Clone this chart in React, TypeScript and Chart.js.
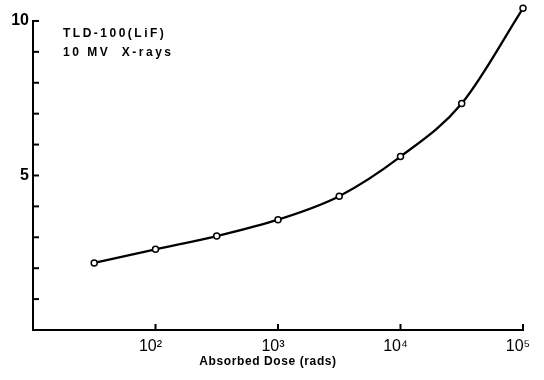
import React, { useEffect, useRef } from "react";
import { Chart, registerables } from "chart.js";

Chart.register(...registerables);

const doses = [31.6, 100, 316, 1000, 3160, 10000, 31600, 100000];
const response = [2.17, 2.61, 3.04, 3.57, 4.33, 5.61, 7.33, 10.41];
const xTickValues = [100, 1000, 10000, 100000];
const xTickLabels = ["10²", "10³", "10⁴", "10⁵"];
const yTickValues = [1, 2, 3, 4, 5, 6, 7, 8, 9, 10];
const yLabelled: Record<number, string> = { 5: "5", 10: "10" };
const yAxisTop = 10;
const annotationLines = ["TLD-100(LiF)", "10 MV  X-rays"];
const xTitle = "Absorbed Dose (rads)";

const FONT = "'Liberation Sans', Arial, sans-serif";

const innerTicks = {
  id: "innerTicks",
  afterDraw(chart: any) {
    const ctx = chart.ctx;
    const { left, bottom } = chart.chartArea;
    const xs = chart.scales.x;
    const ys = chart.scales.y;
    ctx.save();
    ctx.strokeStyle = "#000";
    ctx.lineWidth = 2;
    ctx.beginPath();
    ctx.moveTo(left, bottom + 1);
    ctx.lineTo(left, ys.getPixelForValue(yAxisTop) - 1);
    ctx.stroke();
    yTickValues.forEach((v) => {
      const y = ys.getPixelForValue(v);
      ctx.beginPath();
      ctx.moveTo(left, y);
      ctx.lineTo(left + 6, y);
      ctx.stroke();
    });
    xTickValues.forEach((v) => {
      const x = xs.getPixelForValue(v);
      ctx.beginPath();
      ctx.moveTo(x, bottom);
      ctx.lineTo(x, bottom - 6);
      ctx.stroke();
    });
    ctx.fillStyle = "#000";
    ctx.font = `bold 12px ${FONT}`;
    ctx.textAlign = "left";
    ctx.textBaseline = "middle";
    try { (ctx as any).letterSpacing = "2.5px"; } catch (e) {}
    const topY = ys.getPixelForValue(yAxisTop);
    ctx.fillText(annotationLines[0], left + 30, topY + 13);
    ctx.fillText(annotationLines[1], left + 30, topY + 32);
    try { (ctx as any).letterSpacing = "0.6px"; } catch (e) {}
    ctx.font = `bold 12px ${FONT}`;
    ctx.textAlign = "center";
    ctx.fillText(xTitle, 268, 362);
    ctx.restore();
  },
};

export default function App() {
  const ref = useRef<HTMLCanvasElement | null>(null);
  useEffect(() => {
    document.body.style.margin = "0";
    const canvas = ref.current;
    if (!canvas) return;
    const chart = new Chart(canvas, {
      type: "line",
      data: {
        datasets: [
          {
            data: doses.map((d, i) => ({ x: d, y: response[i] })),
            borderColor: "#000",
            borderWidth: 2.3,
            pointRadius: 3,
            pointBorderWidth: 1.5,
            pointBackgroundColor: "#fff",
            pointBorderColor: "#000",
            cubicInterpolationMode: "monotone",
            clip: false as any,
          },
        ],
      },
      options: {
        animation: false,
        responsive: false,
        layout: { padding: { left: 0, right: 21, top: 1.4, bottom: 0 } },
        plugins: { legend: { display: false }, tooltip: { enabled: false } },
        scales: {
          x: {
            type: "logarithmic",
            min: 10,
            max: 100000,
            afterBuildTicks: (scale: any) => {
              scale.ticks = xTickValues.map((v) => ({ value: v }));
            },
            afterFit: (scale: any) => {
              scale.height = 50;
              scale.paddingLeft = 0;
              scale.paddingRight = 0;
            },
            grid: { drawOnChartArea: false, drawTicks: false },
            border: { display: true, color: "#000", width: 2 },
            ticks: {
              color: "#000",
              font: { family: FONT, size: 16 },
              padding: 7,
              labelOffset: -5,
              autoSkip: false,
              maxRotation: 0,
              callback: (v: any) => {
                const i = xTickValues.indexOf(Number(v));
                return i >= 0 ? xTickLabels[i] : "";
              },
            },
          },
          y: {
            type: "linear",
            min: 0,
            max: 10.5,
            afterBuildTicks: (scale: any) => {
              scale.ticks = yTickValues.map((v) => ({ value: v }));
            },
            afterFit: (scale: any) => {
              scale.width = 33;
              scale.paddingTop = 0;
              scale.paddingBottom = 0;
            },
            grid: { drawOnChartArea: false, drawTicks: false },
            border: { display: false },
            ticks: {
              color: "#000",
              font: { family: FONT, size: 16, weight: "bold" },
              padding: 4,
              autoSkip: false,
              callback: (v: any) => yLabelled[Number(v)] ?? "",
            },
          },
        },
      },
      plugins: [innerTicks],
    });
    return () => chart.destroy();
  }, []);
  return (
    <div style={{ width: 544, height: 380 }}>
      <canvas ref={ref} width={544} height={380} />
    </div>
  );
}
